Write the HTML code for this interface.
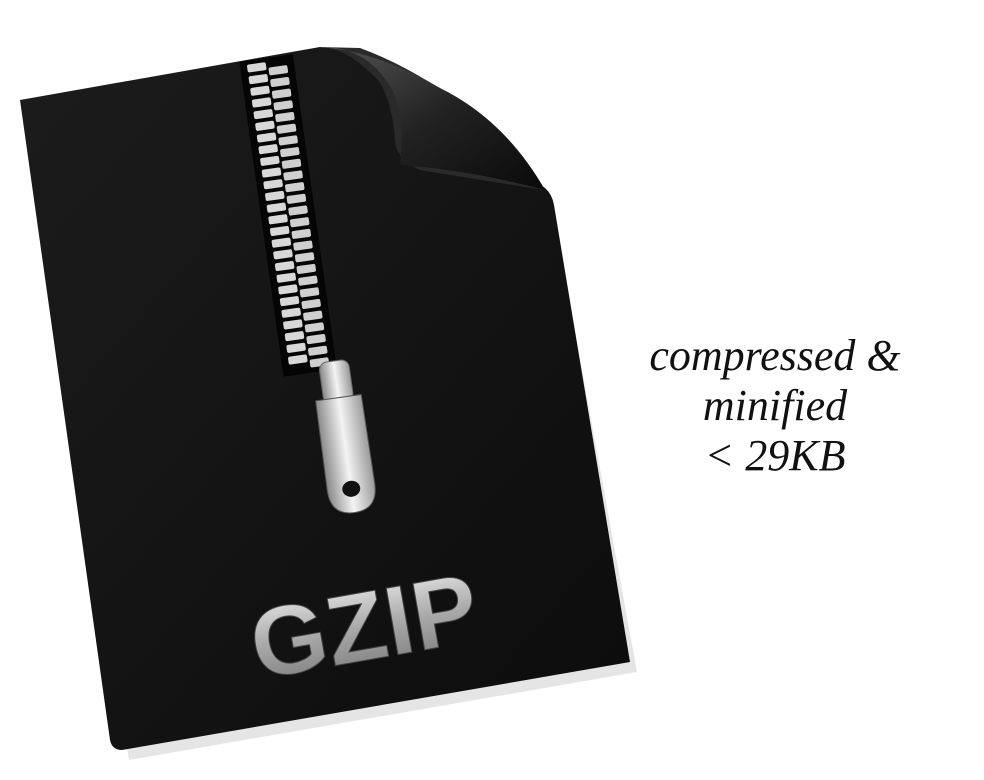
<!DOCTYPE html>
<html>
<head>
<meta charset="utf-8">
<style>
html,body{margin:0;padding:0;background:#fff;}
body{width:984px;height:780px;overflow:hidden;position:relative;font-family:"Liberation Sans",sans-serif;}
svg{position:absolute;left:0;top:0;}
.note{position:absolute;font-family:"Liberation Serif",serif;font-style:italic;font-size:44px;color:#111;text-align:center;line-height:52px;}
</style>
</head>
<body>
<svg width="984" height="780" viewBox="0 0 984 780">
  <defs>
    <linearGradient id="docg" x1="0" y1="0" x2="1" y2="1">
      <stop offset="0" stop-color="#1c1c1c"/>
      <stop offset="1" stop-color="#0c0c0c"/>
    </linearGradient>
    <linearGradient id="foldg" x1="0" y1="0" x2="1" y2="1">
      <stop offset="0" stop-color="#555"/>
      <stop offset="0.5" stop-color="#222"/>
      <stop offset="1" stop-color="#0a0a0a"/>
    </linearGradient>
    <linearGradient id="textg" x1="0" y1="0" x2="0" y2="1">
      <stop offset="0" stop-color="#f0f0f0"/>
      <stop offset="0.5" stop-color="#aaa"/>
      <stop offset="1" stop-color="#777"/>
    </linearGradient>
    <linearGradient id="pullg" x1="0" y1="0" x2="1" y2="0">
      <stop offset="0" stop-color="#888"/>
      <stop offset="0.5" stop-color="#f4f4f4"/>
      <stop offset="1" stop-color="#999"/>
    </linearGradient>
  </defs>
  <path d="M24,104 L322,50 Q440,110 548,195 L634,668 L126,756 Z" fill="#ccc" opacity="0.5" transform="translate(3,4)"/>
  <path d="M20,100 L320,47 Q360,50 392,74 L545,188 Q552,194 554,205 L630,662 L122,750 Q112,750 110,740 Z" fill="url(#docg)"/>
  <path d="M318,47 Q345,46 378,80 Q392,100 395,140 Q396,160 420,170 Q480,180 545,190 Q520,150 480,118 Q420,70 360,48 Z" fill="#2a2a2a"/>
  <path d="M320,47 Q370,46 395,95 Q405,130 400,165 Q470,170 545,190 Q505,120 440,88 Q380,52 320,47 Z" fill="url(#foldg)"/>
  <g transform="translate(266,58) rotate(-8)">
    <rect x="-27" y="0" width="54" height="318" fill="#050505"/>
    <g id="teeth"></g>
  </g>
  <g transform="translate(334,366) rotate(-8)">
    <rect x="-15" y="-5" width="30" height="42" rx="8" fill="url(#pullg)" stroke="#666"/>
    <path d="M-23,32 L23,32 L24,122 Q24,148 0,148 Q-24,148 -24,122 Z" fill="url(#pullg)" stroke="#555"/>
    <ellipse cx="0" cy="124" rx="9" ry="8" fill="#111"/>
  </g>
  <text x="364" y="660" text-anchor="middle" font-family="Liberation Sans, sans-serif" font-weight="bold" font-size="98" fill="url(#textg)" stroke="#444" stroke-width="1" transform="rotate(-10 364 625)">GZIP</text>
</svg>
<div class="note" style="left:600px;top:330px;width:350px;">compressed &amp;</div>
<div class="note" style="left:600px;top:380px;width:350px;">minified</div>
<div class="note" style="left:600px;top:430px;width:350px;">&lt; 29KB</div>
<script>
var g=document.getElementById('teeth');
var ns='http://www.w3.org/2000/svg';
for(var i=0;i<26;i++){
  var y=4+i*11.8;
  var l=document.createElementNS(ns,'rect');
  l.setAttribute('x',-20);l.setAttribute('y',y);l.setAttribute('width',19);l.setAttribute('height',8);
  l.setAttribute('rx',2);l.setAttribute('fill','#d8d8d8');
  
  
  g.appendChild(l);
  var r=document.createElementNS(ns,'rect');
  r.setAttribute('x',1);r.setAttribute('y',y+5.9);r.setAttribute('width',19);r.setAttribute('height',8);
  r.setAttribute('rx',2);r.setAttribute('fill','#cfcfcf');
  
  
  g.appendChild(r);
}
</script>
</body>
</html>
